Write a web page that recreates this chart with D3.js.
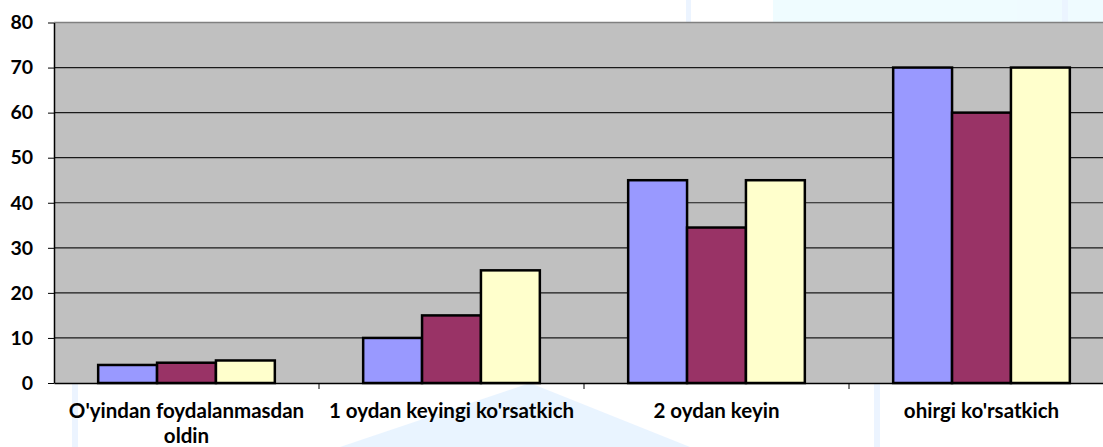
<!DOCTYPE html>
<html>
<head>
<meta charset="utf-8">
<script src="https://cdn.jsdelivr.net/npm/d3@7"></script>
<style>
  body { margin: 0; background: #fff; }
  text { font-family: Lato, "Open Sans", sans-serif; font-weight: bold; fill: #000; }
</style>
</head>
<body>
<div id="chart"></div>
<script>
const categories = ["O'yindan foydalanmasdan oldin", "1 oydan keyingi ko'rsatkich", "2 oydan keyin", "ohirgi ko'rsatkich"];
const series = ["s1", "s2", "s3"];
const values = [
  [4, 4.5, 5],
  [10, 15, 25],
  [45, 34.5, 45],
  [70, 60, 70]
];
const yTicks = [0, 10, 20, 30, 40, 50, 60, 70, 80];
const colors = ["#9999FF", "#993366", "#FFFFCC"];

const W = 1103, H = 447;
const plot = { left: 54, right: 1114, top: 22.5, bottom: 383 };

const svg = d3.select("#chart").append("svg")
  .attr("width", W).attr("height", H);

// faint watermark behind the chart
const wm = svg.append("g").attr("opacity", 0.4);
wm.append("rect").attr("x", 773).attr("y", 0).attr("width", 330).attr("height", 22).attr("fill", "#D8F7FF");
wm.append("path").attr("d", "M530,383 L340,447 L690,447 Z").attr("fill", "#C8E4FF");
wm.append("rect").attr("x", 686).attr("y", 0).attr("width", 5).attr("height", 22).attr("fill", "#CFE4FF");
wm.append("rect").attr("x", 1062).attr("y", 0).attr("width", 6).attr("height", 22).attr("fill", "#CFE4FF");
wm.append("rect").attr("x", 72).attr("y", 383).attr("width", 6).attr("height", 64).attr("fill", "#CFE4FF");
wm.append("rect").attr("x", 874).attr("y", 383).attr("width", 6).attr("height", 64).attr("fill", "#CFE4FF");

const x0 = d3.scaleBand().domain(categories).range([plot.left, plot.right]).padding(0);
const bw = x0.bandwidth();
const x1 = d3.scaleBand().domain(series)
  .range([bw * 0.75 / 4.5, bw * 3.75 / 4.5]).padding(0);
const y = d3.scaleLinear().domain([0, 80]).range([plot.bottom, plot.top]);

// plot area
svg.append("rect")
  .attr("x", plot.left).attr("y", plot.top)
  .attr("width", plot.right - plot.left).attr("height", plot.bottom - plot.top)
  .attr("fill", "#C0C0C0");
svg.append("line")
  .attr("x1", plot.left).attr("x2", plot.right)
  .attr("y1", plot.top).attr("y2", plot.top)
  .attr("stroke", "#808080").attr("stroke-width", 1.5);

// gridlines
svg.append("g").selectAll("line")
  .data(yTicks.filter(d => d > 0 && d < 80))
  .enter().append("line")
  .attr("x1", plot.left).attr("x2", plot.right)
  .attr("y1", d => y(d)).attr("y2", d => y(d))
  .attr("stroke", "#1a1a1a").attr("stroke-width", 1.2);

// bars
const groups = svg.append("g").selectAll("g")
  .data(categories)
  .enter().append("g")
  .attr("transform", d => `translate(${x0(d)},0)`);

groups.selectAll("rect")
  .data((d, i) => values[i].map((v, j) => ({ s: series[j], v: v, c: colors[j] })))
  .enter().append("rect")
  .attr("x", d => x1(d.s))
  .attr("y", d => y(d.v))
  .attr("width", x1.bandwidth())
  .attr("height", d => y(0) - y(d.v))
  .attr("fill", d => d.c)
  .attr("stroke", "#000")
  .attr("stroke-width", 2.5);

// y axis
const yAxis = svg.append("g")
  .attr("transform", `translate(${plot.left},0)`)
  .call(d3.axisLeft(y).tickValues(yTicks).tickSize(6).tickPadding(15).tickSizeOuter(0));
yAxis.select(".domain").attr("stroke", "#000").attr("stroke-width", 1.5);
yAxis.selectAll(".tick line").attr("stroke", "#000").attr("stroke-width", 1);
yAxis.selectAll("text").style("font-size", "19.5px").style("font-family", "Lato, sans-serif").style("font-weight", "bold");

// x axis
const xAxis = svg.append("g")
  .attr("transform", `translate(0,${plot.bottom})`)
  .call(d3.axisBottom(x0).tickSize(0).tickSizeOuter(0).tickFormat(""));
xAxis.select(".domain").attr("stroke", "#000").attr("stroke-width", 1.5);

svg.append("g").selectAll("line")
  .data(categories.slice(1))
  .enter().append("line")
  .attr("x1", d => x0(d)).attr("x2", d => x0(d))
  .attr("y1", plot.bottom).attr("y2", plot.bottom + 6)
  .attr("stroke", "#000").attr("stroke-width", 1);

// category labels (first one wraps)
const labelLines = [["O'yindan foydalanmasdan", "oldin"], ["1 oydan keyingi ko'rsatkich"], ["2 oydan keyin"], ["ohirgi ko'rsatkich"]];
categories.forEach((c, i) => {
  const t = svg.append("text")
    .attr("x", x0(c) + bw / 2)
    .attr("y", 418)
    .attr("text-anchor", "middle")
    .style("font-size", "20.5px");
  labelLines[i].forEach((ln, k) => {
    t.append("tspan")
      .attr("x", x0(c) + bw / 2)
      .attr("dy", k === 0 ? 0 : 25)
      .text(ln);
  });
});
</script>
</body>
</html>
